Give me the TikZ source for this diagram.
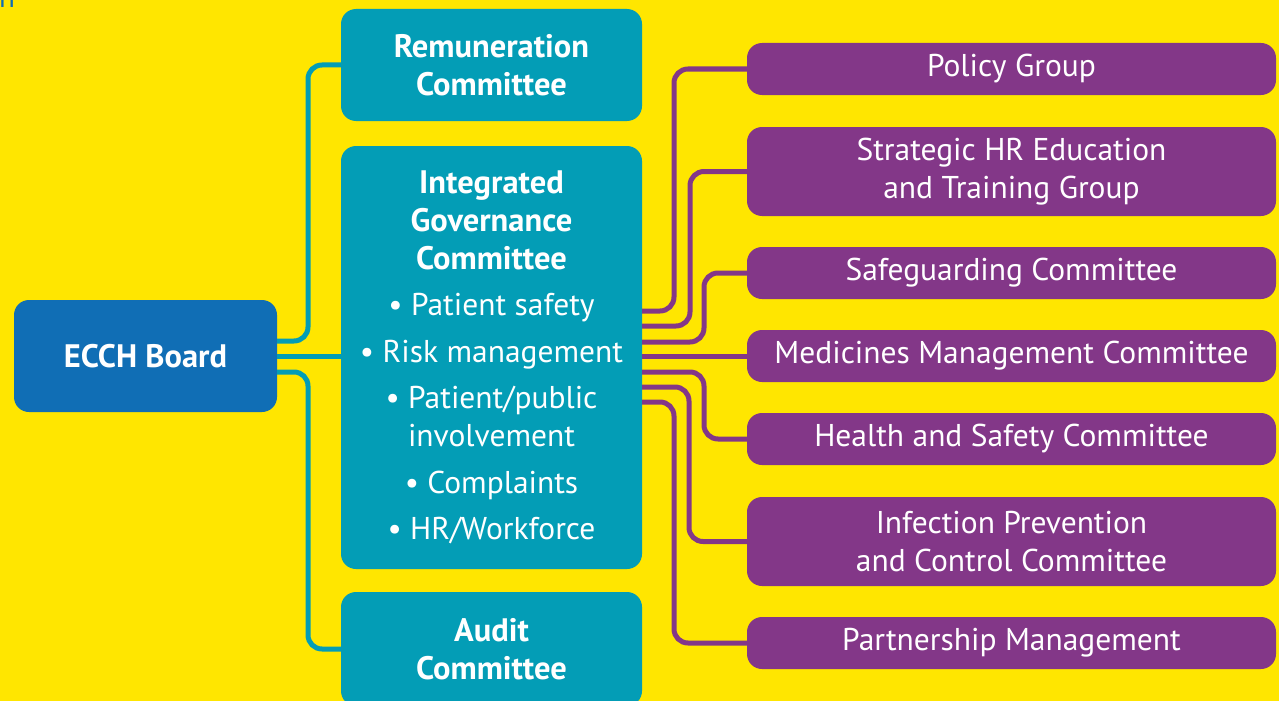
\documentclass[tikz,border=0pt]{standalone}
\usepackage{fontspec}
\setmainfont{PT Sans}
\begin{document}
\begin{tikzpicture}[x=1pt,y=-1pt,
  every node/.style={inner sep=0pt, outer sep=0pt},
  tealbox/.style={fill=tealc, rounded corners=15pt, text=white,
    font=\fontsize{32.5}{38}\selectfont\bfseries, align=center, minimum width=301pt},
  purplebox/.style={fill=purplec, rounded corners=15pt, text=white,
    font=\fontsize{31.5}{38}\selectfont, align=center, minimum width=529pt},
  item/.style={font=\fontsize{31.5}{38}\selectfont\mdseries},
  tealline/.style={draw=tealc, line width=5pt, rounded corners=14pt},
  purpline/.style={draw=purplec, line width=5pt, rounded corners=14pt}]
\definecolor{bgyellow}{HTML}{FFE600}
\definecolor{tealc}{HTML}{039DB6}
\definecolor{boardblue}{HTML}{106EB5}
\definecolor{purplec}{HTML}{833788}

\useasboundingbox (0,0) rectangle (1279,701);
\fill[bgyellow] (0,0) rectangle (1279,701);

% remnant of a heading cut off by the top edge
\begin{scope}
  \clip (0,0) rectangle (1279,701);
  \node[anchor=base west, text=boardblue, font=\fontsize{29}{34}\selectfont] (heading) at (-1,8) {n};
\end{scope}

% board and committees
\node[fill=boardblue, rounded corners=15pt, text=white, font=\fontsize{32.5}{38}\selectfont\bfseries,
  minimum width=263pt, minimum height=112pt] (board) at (145.5,356) {ECCH Board};

\node[tealbox, minimum height=112pt] (remun) at (491.5,65) {Remuneration\\Committee};

\node[tealbox, minimum height=423pt] (igc) at (491.5,357.5)
  {Integrated\\Governance\\Committee\\[8pt]
   {\fontsize{31.5}{38}\selectfont\mdseries\textbullet\ Patient safety}\\[9pt]
   {\fontsize{31.5}{38}\selectfont\mdseries\textbullet\ Risk management}\\[8pt]
   {\fontsize{31.5}{38}\selectfont\mdseries\textbullet\ Patient/public}\\
   {\fontsize{31.5}{38}\selectfont\mdseries involvement}\\[9pt]
   {\fontsize{31.5}{38}\selectfont\mdseries\textbullet\ Complaints}\\[8pt]
   {\fontsize{31.5}{38}\selectfont\mdseries\textbullet\ HR/Workforce}};

\node[tealbox, minimum height=114pt] (audit) at (491.5,649) {Audit\\Committee};

% sub-groups
\node[purplebox, minimum height=52pt] (policy) at (1011.5,69) {Policy Group};
\node[purplebox, minimum height=89pt] (hr) at (1011.5,171.5) {Strategic HR Education\\and Training Group};
\node[purplebox, minimum height=52pt] (safe) at (1011.5,273) {Safeguarding Committee};
\node[purplebox, minimum height=52pt] (meds) at (1011.5,356) {Medicines Management Committee};
\node[purplebox, minimum height=52pt] (hs) at (1011.5,439) {Health and Safety Committee};
\node[purplebox, minimum height=89pt] (ipc) at (1011.5,541.5) {Infection Prevention\\and Control Committee};
\node[purplebox, minimum height=52pt] (partner) at (1011.5,643) {Partnership Management};

% board to committees
\draw[tealline] (board.east |- 0,341) -- (308,341) |- (remun.west);
\draw[tealline] (board.east) -- (igc.west |- board.east);
\draw[tealline] (board.east |- 0,372) -- (308,372) |- (audit.west);

% governance committee to sub-groups
\draw[purpline] (igc.east |- 0,311) -- (674,311) |- (policy.west);
\draw[purpline] (igc.east |- 0,326) -- (690,326) |- (hr.west);
\draw[purpline] (igc.east |- 0,342) -- (704,342) |- (safe.west);
\draw[purpline] (igc.east |- 0,356) -- (meds.west);
\draw[purpline] (igc.east |- 0,372) -- (704,372) |- (hs.west);
\draw[purpline] (igc.east |- 0,387) -- (689,387) |- (ipc.west);
\draw[purpline] (igc.east |- 0,402) -- (674,402) |- (partner.west);
\end{tikzpicture}
\end{document}
